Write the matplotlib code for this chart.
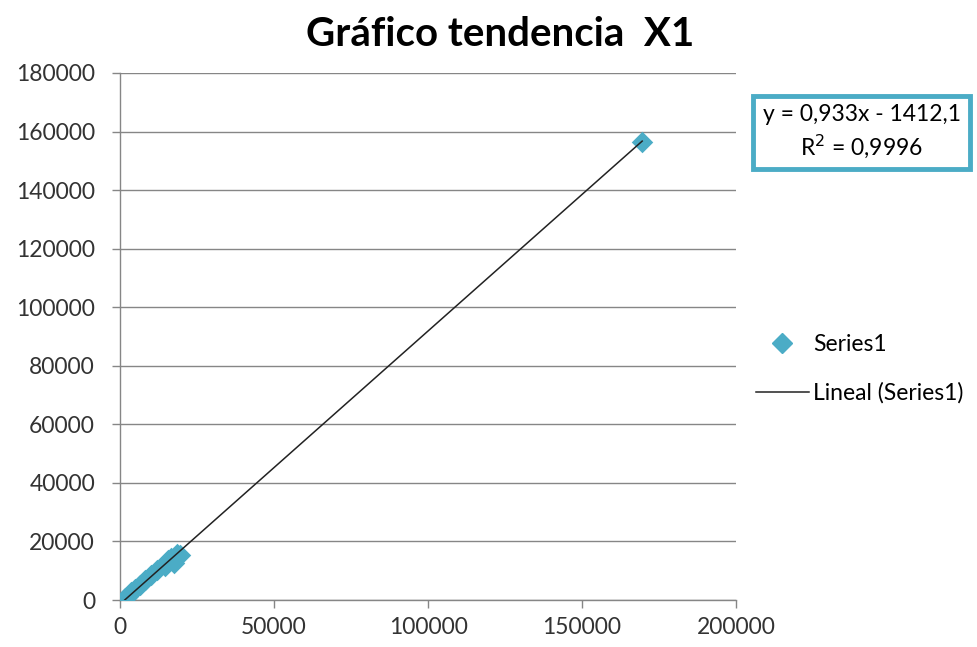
import numpy as np
import matplotlib.pyplot as plt
from matplotlib.lines import Line2D

plt.rcParams['font.family'] = ['Lato', 'DejaVu Sans']

# data
x_vals = [1500, 2500, 3500, 5000, 6500, 8000, 10000, 12000, 14500, 15500, 16500, 17500, 18500, 19500, 169500]
y_vals = [600, 1500, 2800, 3800, 5200, 6800, 8600, 10200, 11500, 13500, 14200, 12800, 15800, 15300, 156500]
slope = 0.933
intercept = -1412.1
r2 = 0.9996
title = 'Gráfico tendencia  X1'

teal = '#4BACC6'
grid_gray = '#868686'

fig = plt.figure(figsize=(9.78, 6.47), dpi=100)
ax = fig.add_axes([0.1227, 0.0726, 0.63, 0.8146])

ax.scatter(x_vals, y_vals, marker='D', s=120, color=teal, zorder=3, linewidths=0)
xs = np.array([min(x_vals), max(x_vals)])
ax.plot(xs, slope * xs + intercept, color='#222222', lw=1.1, zorder=4)

ax.set_xlim(0, 200000)
ax.set_ylim(0, 180000)
ax.set_xticks(np.arange(0, 200001, 50000))
ax.set_yticks(np.arange(0, 180001, 20000))
ax.yaxis.grid(True, color=grid_gray, lw=1)
ax.set_axisbelow(True)
for s in ['top', 'right']:
    ax.spines[s].set_visible(False)
for s in ['left', 'bottom']:
    ax.spines[s].set_color(grid_gray)
    ax.spines[s].set_linewidth(1)
ax.tick_params(axis='both', colors=grid_gray, length=6, width=1, labelsize=16.5,
               labelcolor='#333333', direction='out')
ax.tick_params(axis='y', pad=12)
ax.tick_params(axis='x', pad=6)

fig.text(0.511, 0.946, title, ha='center', va='center', fontsize=29, fontweight='bold')

# equation box
fig.text(0.881, 0.796, 'y = 0,933x - 1412,1\nR$^2$ = 0,9996', ha='center', va='center',
         fontsize=16.5, linespacing=1.3,
         bbox=dict(boxstyle='square,pad=0.4', fc='white', ec=teal, lw=3.5))

# legend
handles = [Line2D([], [], marker='D', color=teal, ls='none', markersize=10),
           Line2D([], [], color='#222222', lw=1.1)]
fig.legend(handles, ['Series1', 'Lineal (Series1)'], loc='center left',
           bbox_to_anchor=(0.752, 0.43), frameon=False, fontsize=16.5,
           handlelength=2.3, handletextpad=0.2, labelspacing=1.2)

fig.savefig('out.png', dpi=100)
